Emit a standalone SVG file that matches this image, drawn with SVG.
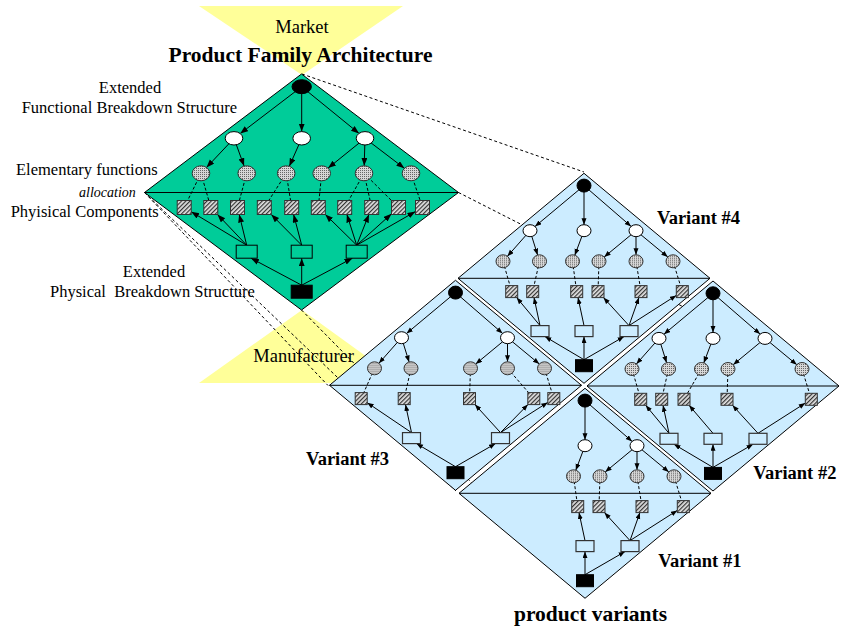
<svg xmlns="http://www.w3.org/2000/svg" width="844" height="632" viewBox="0 0 844 632">
<style>
  text { font-family: "Liberation Serif", "Times New Roman", serif; fill: #000; }
  .lbl { font-size: 16.5px; }
  .ttl { font-size: 21.5px; font-weight: bold; }
  .vname { font-size: 18.5px; font-weight: bold; }
  .pole { font-size: 18.5px; }
  .tri { fill: #FFFF99; stroke: none; }
  .proj { stroke: #000; stroke-width: 1; stroke-dasharray: 3 2.5; fill: none; }
  .pfa { fill: #00CC99; stroke: #000; stroke-width: 1; }
  .vd { fill: #CCECFF; stroke: #000; stroke-width: 1; }
  .split { stroke: #000; stroke-width: 1; }
  .arr { stroke: #000; stroke-width: 1; fill: none; marker-end: url(#ah); }
  .arrg { stroke: #000; stroke-width: 1; fill: none; marker-end: url(#ahg); }
  .dsh { stroke: #000; stroke-width: 1; stroke-dasharray: 3 2; fill: none; }
  .blk { fill: #000; stroke: #000; }
  .fn { fill: #fff; stroke: #000; stroke-width: 1; }
  .ef { fill: url(#dots); stroke: #333; stroke-width: 1; }
  .pc { fill: url(#hatch); stroke: #333; stroke-width: 1; }
  .ssg { fill: #00CC99; stroke: #000; stroke-width: 1; }
  .ssv { fill: #CCECFF; stroke: #333; stroke-width: 1.2; }
</style>
<defs>
  <pattern id="dots" width="2" height="2" patternUnits="userSpaceOnUse">
    <rect width="2" height="2" fill="#d6d6d6"/>
    <rect width="1" height="1" fill="#666"/>
  </pattern>
  <pattern id="hatch" width="3" height="3" patternUnits="userSpaceOnUse" patternTransform="rotate(45)">
    <rect width="3" height="3" fill="#e2e2e2"/>
    <line x1="0.6" y1="0" x2="0.6" y2="3" stroke="#333" stroke-width="1.2"/>
  </pattern>
  <marker id="ah" markerWidth="7" markerHeight="6" refX="6.5" refY="2.5" orient="auto" markerUnits="userSpaceOnUse">
    <path d="M0,0 L6.5,2.5 L0,5 z" fill="#000"/>
  </marker>
  <marker id="ahg" markerWidth="9" markerHeight="7" refX="8" refY="3" orient="auto" markerUnits="userSpaceOnUse">
    <path d="M0,0 L8,3 L0,6 z" fill="#000"/>
  </marker>
</defs>

<!-- market and manufacturer funnels -->
<g id="market">
  <polygon class="tri" points="199,6 403,6 302,75"/>
</g>
<g id="manufacturer">
  <polygon class="tri" points="199,383 403,383 302,310"/>
</g>

<!-- projection from the family architecture onto the variants -->
<g id="projection">
  <line class="proj" x1="302" y1="74" x2="584" y2="172"/>
  <line class="proj" x1="458.5" y1="192.5" x2="839" y2="386"/>
  <line class="proj" x1="144.5" y1="192.5" x2="328" y2="385.5"/>
  <line class="proj" x1="144.5" y1="192.5" x2="456" y2="491"/>
  <line class="proj" x1="301.5" y1="310" x2="585" y2="598"/>
</g>

<!-- product family architecture -->
<g id="family">
  <polygon class="pfa" points="301.5,74 458.5,192.5 301.5,310 144.5,192.5"/>
  <line class="split" x1="144.5" y1="192.5" x2="458.5" y2="192.5"/>
  <g id="family-links">
    <path class="arrg" d="M301.7,86.7 L240.2,133.6"/>
    <path class="arrg" d="M301.7,86.7 L301.7,131.6"/>
    <path class="arrg" d="M301.7,86.7 L359,133.4"/>
    <path class="arrg" d="M234,138.3 L206.5,167.5"/>
    <path class="arrg" d="M234,138.3 L244.1,166.1"/>
    <path class="arrg" d="M301.7,138.3 L289.3,166.3"/>
    <path class="arrg" d="M365,138.3 L328.1,168.1"/>
    <path class="arrg" d="M365,138.3 L364.2,165.8"/>
    <path class="arrg" d="M365,138.3 L404.4,168.3"/>
    <path class="dsh" d="M201,173.3 L184.2,207.5"/>
    <path class="dsh" d="M201,173.3 L210.8,207.5"/>
    <path class="dsh" d="M246.7,173.3 L237.5,207.5"/>
    <path class="dsh" d="M286.2,173.3 L264.3,207.5"/>
    <path class="dsh" d="M286.2,173.3 L291.7,207.5"/>
    <path class="dsh" d="M321.7,173.3 L318.3,207.5"/>
    <path class="dsh" d="M364,173.3 L344.7,207.5"/>
    <path class="dsh" d="M364,173.3 L371.7,207.5"/>
    <path class="dsh" d="M364,173.3 L398.5,207.5"/>
    <path class="dsh" d="M411,173.3 L422.5,207.5"/>
    <path class="arrg" d="M246.7,245.2 L191.2,211.7"/>
    <path class="arrg" d="M246.7,245.2 L217.5,214.5"/>
    <path class="arrg" d="M246.7,245.2 L239.2,214.5"/>
    <path class="arrg" d="M301.7,245.2 L271.3,214.5"/>
    <path class="arrg" d="M301.7,245.2 L293.6,214.5"/>
    <path class="arrg" d="M356.7,245.2 L325.3,214.4"/>
    <path class="arrg" d="M356.7,245.2 L346.9,214.5"/>
    <path class="arrg" d="M356.7,245.2 L368.9,214.5"/>
    <path class="arrg" d="M356.7,245.2 L391.5,213.8"/>
    <path class="arrg" d="M356.7,245.2 L415.5,211.5"/>
    <path class="arrg" d="M301.7,285.2 L251,258.2"/>
    <path class="arrg" d="M301.7,285.2 L301.7,258.2"/>
    <path class="arrg" d="M301.7,285.2 L352.4,258.2"/>
  </g>
  <g id="f-root"><ellipse class="blk" cx="301.7" cy="86.7" rx="9.7" ry="7"/></g>
  <g id="f-fn1"><ellipse class="fn" cx="234" cy="138.3" rx="8.8" ry="6.7"/></g>
  <g id="f-fn2"><ellipse class="fn" cx="301.7" cy="138.3" rx="8.8" ry="6.7"/></g>
  <g id="f-fn3"><ellipse class="fn" cx="365" cy="138.3" rx="8.8" ry="6.7"/></g>
  <g id="f-ef1"><ellipse class="ef" cx="201" cy="173.3" rx="8.8" ry="7.5"/></g>
  <g id="f-ef2"><ellipse class="ef" cx="246.7" cy="173.3" rx="8.8" ry="7.5"/></g>
  <g id="f-ef3"><ellipse class="ef" cx="286.2" cy="173.3" rx="8.8" ry="7.5"/></g>
  <g id="f-ef4"><ellipse class="ef" cx="321.7" cy="173.3" rx="8.8" ry="7.5"/></g>
  <g id="f-ef5"><ellipse class="ef" cx="364" cy="173.3" rx="8.8" ry="7.5"/></g>
  <g id="f-ef6"><ellipse class="ef" cx="411" cy="173.3" rx="8.8" ry="7.5"/></g>
  <g id="f-pc1"><rect class="pc" x="177.2" y="200.5" width="14" height="14"/></g>
  <g id="f-pc2"><rect class="pc" x="203.8" y="200.5" width="14" height="14"/></g>
  <g id="f-pc3"><rect class="pc" x="230.5" y="200.5" width="14" height="14"/></g>
  <g id="f-pc4"><rect class="pc" x="257.3" y="200.5" width="14" height="14"/></g>
  <g id="f-pc5"><rect class="pc" x="284.7" y="200.5" width="14" height="14"/></g>
  <g id="f-pc6"><rect class="pc" x="311.3" y="200.5" width="14" height="14"/></g>
  <g id="f-pc7"><rect class="pc" x="337.7" y="200.5" width="14" height="14"/></g>
  <g id="f-pc8"><rect class="pc" x="364.7" y="200.5" width="14" height="14"/></g>
  <g id="f-pc9"><rect class="pc" x="391.5" y="200.5" width="14" height="14"/></g>
  <g id="f-pc10"><rect class="pc" x="415.5" y="200.5" width="14" height="14"/></g>
  <g id="f-ss1"><rect class="ssg" x="236.2" y="245.2" width="21" height="13"/></g>
  <g id="f-ss2"><rect class="ssg" x="291.2" y="245.2" width="21" height="13"/></g>
  <g id="f-ss3"><rect class="ssg" x="346.2" y="245.2" width="21" height="13"/></g>
  <g id="f-prod"><rect class="blk" x="291.2" y="285.2" width="21" height="13"/></g>
</g>

<!-- variant #4 (top) -->
<g id="variant-4" transform="translate(584,278.3)">
  <polygon class="vd" points="0,-105 126,0 0,105 -126,0"/>
  <line class="split" x1="-126" y1="0" x2="126" y2="0"/>
  <g id="v4-links">
    <path class="arr" d="M0,-92.7 L-49,-51.8"/>
    <path class="arr" d="M0,-92.7 L0,-53.6"/>
    <path class="arr" d="M0,-92.7 L47.1,-51.9"/>
    <path class="arr" d="M-54,-47.6 L-76.6,-22"/>
    <path class="arr" d="M-54,-47.6 L-46.4,-23.3"/>
    <path class="arr" d="M0,-47.6 L-9.2,-23.1"/>
    <path class="arr" d="M52,-47.6 L20.2,-21.3"/>
    <path class="arr" d="M52,-47.6 L52,-23.5"/>
    <path class="arr" d="M52,-47.6 L83.8,-21.3"/>
    <path class="dsh" d="M-81,-17 L-72.3,13.3"/>
    <path class="dsh" d="M-44.5,-17 L-51.3,13.3"/>
    <path class="dsh" d="M-11.5,-17 L-7.3,13.3"/>
    <path class="dsh" d="M15,-17 L14,13.3"/>
    <path class="dsh" d="M52,-17 L57,13.3"/>
    <path class="dsh" d="M89,-17 L98.3,13.3"/>
    <path class="arr" d="M-44,47.3 L-67.3,19.3"/>
    <path class="arr" d="M-44,47.3 L-50,19.3"/>
    <path class="arr" d="M0,47.3 L-6,19.3"/>
    <path class="arr" d="M45,47.3 L19.5,19.3"/>
    <path class="arr" d="M45,47.3 L54.9,19.3"/>
    <path class="arr" d="M45,47.3 L92.3,17.1"/>
    <path class="arr" d="M0,81.4 L-39,58.3"/>
    <path class="arr" d="M0,81.4 L0,58.3"/>
    <path class="arr" d="M0,81.4 L40,58.3"/>
  </g>
  <g id="v4-root"><ellipse class="blk" cx="0" cy="-92.7" rx="7" ry="6.5"/></g>
  <g id="v4-fn1"><ellipse class="fn" cx="-54" cy="-47.6" rx="7" ry="6"/></g>
  <g id="v4-fn2"><ellipse class="fn" cx="0" cy="-47.6" rx="7" ry="6"/></g>
  <g id="v4-fn3"><ellipse class="fn" cx="52" cy="-47.6" rx="7" ry="6"/></g>
  <g id="v4-ef1"><ellipse class="ef" cx="-81" cy="-17" rx="7" ry="6.5"/></g>
  <g id="v4-ef2"><ellipse class="ef" cx="-44.5" cy="-17" rx="7" ry="6.5"/></g>
  <g id="v4-ef3"><ellipse class="ef" cx="-11.5" cy="-17" rx="7" ry="6.5"/></g>
  <g id="v4-ef4"><ellipse class="ef" cx="15" cy="-17" rx="7" ry="6.5"/></g>
  <g id="v4-ef5"><ellipse class="ef" cx="52" cy="-17" rx="7" ry="6.5"/></g>
  <g id="v4-ef6"><ellipse class="ef" cx="89" cy="-17" rx="7" ry="6.5"/></g>
  <g id="v4-pc1"><rect class="pc" x="-78.3" y="7.3" width="12" height="12"/></g>
  <g id="v4-pc2"><rect class="pc" x="-57.3" y="7.3" width="12" height="12"/></g>
  <g id="v4-pc3"><rect class="pc" x="-13.3" y="7.3" width="12" height="12"/></g>
  <g id="v4-pc4"><rect class="pc" x="8" y="7.3" width="12" height="12"/></g>
  <g id="v4-pc5"><rect class="pc" x="51" y="7.3" width="12" height="12"/></g>
  <g id="v4-pc6"><rect class="pc" x="92.3" y="7.3" width="12" height="12"/></g>
  <g id="v4-ss1"><rect class="ssv" x="-53" y="47.3" width="18" height="11"/></g>
  <g id="v4-ss2"><rect class="ssv" x="-9" y="47.3" width="18" height="11"/></g>
  <g id="v4-ss3"><rect class="ssv" x="36" y="47.3" width="18" height="11"/></g>
  <g id="v4-prod"><rect class="blk" x="-8.5" y="81.4" width="17" height="12"/></g>
</g>

<!-- variant #3 (left) -->
<g id="variant-3" transform="translate(455.5,385.3)">
  <polygon class="vd" points="0,-105 126,0 0,105 -126,0"/>
  <line class="split" x1="-126" y1="0" x2="126" y2="0"/>
  <g id="v3-links">
    <path class="arr" d="M0,-92.7 L-49,-51.8"/>
    <path class="arr" d="M0,-92.7 L47.1,-51.9"/>
    <path class="arr" d="M-54,-47.6 L-76.6,-22"/>
    <path class="arr" d="M-54,-47.6 L-46.4,-23.3"/>
    <path class="arr" d="M52,-47.6 L20.2,-21.3"/>
    <path class="arr" d="M52,-47.6 L52,-23.5"/>
    <path class="arr" d="M52,-47.6 L83.8,-21.3"/>
    <path class="dsh" d="M-81,-17 L-94.3,13.3"/>
    <path class="dsh" d="M-44.5,-17 L-51.3,13.3"/>
    <path class="dsh" d="M15,-17 L14,13.3"/>
    <path class="dsh" d="M52,-17 L78.3,13.3"/>
    <path class="dsh" d="M89,-17 L98.3,13.3"/>
    <path class="arr" d="M-44,47.3 L-88.3,17.4"/>
    <path class="arr" d="M-44,47.3 L-50,19.3"/>
    <path class="arr" d="M45,47.3 L19.5,19.3"/>
    <path class="arr" d="M45,47.3 L72.4,19.3"/>
    <path class="arr" d="M45,47.3 L92.3,17.1"/>
    <path class="arr" d="M0,81.4 L-39,58.3"/>
    <path class="arr" d="M0,81.4 L40,58.3"/>
  </g>
  <g id="v3-root"><ellipse class="blk" cx="0" cy="-92.7" rx="7" ry="6.5"/></g>
  <g id="v3-fn1"><ellipse class="fn" cx="-54" cy="-47.6" rx="7" ry="6"/></g>
  <g id="v3-fn2"><ellipse class="fn" cx="52" cy="-47.6" rx="7" ry="6"/></g>
  <g id="v3-ef1"><ellipse class="ef" cx="-81" cy="-17" rx="7" ry="6.5"/></g>
  <g id="v3-ef2"><ellipse class="ef" cx="-44.5" cy="-17" rx="7" ry="6.5"/></g>
  <g id="v3-ef3"><ellipse class="ef" cx="15" cy="-17" rx="7" ry="6.5"/></g>
  <g id="v3-ef4"><ellipse class="ef" cx="52" cy="-17" rx="7" ry="6.5"/></g>
  <g id="v3-ef5"><ellipse class="ef" cx="89" cy="-17" rx="7" ry="6.5"/></g>
  <g id="v3-pc1"><rect class="pc" x="-100.3" y="7.3" width="12" height="12"/></g>
  <g id="v3-pc2"><rect class="pc" x="-57.3" y="7.3" width="12" height="12"/></g>
  <g id="v3-pc3"><rect class="pc" x="8" y="7.3" width="12" height="12"/></g>
  <g id="v3-pc4"><rect class="pc" x="72.3" y="7.3" width="12" height="12"/></g>
  <g id="v3-pc5"><rect class="pc" x="92.3" y="7.3" width="12" height="12"/></g>
  <g id="v3-ss1"><rect class="ssv" x="-53" y="47.3" width="18" height="11"/></g>
  <g id="v3-ss2"><rect class="ssv" x="36" y="47.3" width="18" height="11"/></g>
  <g id="v3-prod"><rect class="blk" x="-8.5" y="81.4" width="17" height="12"/></g>
</g>

<!-- variant #2 (right) -->
<g id="variant-2" transform="translate(713,386)">
  <polygon class="vd" points="0,-105 126,0 0,105 -126,0"/>
  <line class="split" x1="-126" y1="0" x2="126" y2="0"/>
  <g id="v2-links">
    <path class="arr" d="M0,-92.7 L-49,-51.8"/>
    <path class="arr" d="M0,-92.7 L0,-53.6"/>
    <path class="arr" d="M0,-92.7 L47.1,-51.9"/>
    <path class="arr" d="M-54,-47.6 L-76.6,-22"/>
    <path class="arr" d="M-54,-47.6 L-46.4,-23.3"/>
    <path class="arr" d="M0,-47.6 L-9.2,-23.1"/>
    <path class="arr" d="M52,-47.6 L20.2,-21.3"/>
    <path class="arr" d="M52,-47.6 L83.8,-21.3"/>
    <path class="dsh" d="M-81,-17 L-72.3,13.3"/>
    <path class="dsh" d="M-44.5,-17 L-51.3,13.3"/>
    <path class="dsh" d="M-11.5,-17 L-29,13.3"/>
    <path class="dsh" d="M15,-17 L14,13.3"/>
    <path class="dsh" d="M89,-17 L98.3,13.3"/>
    <path class="arr" d="M-44,47.3 L-67.3,19.3"/>
    <path class="arr" d="M-44,47.3 L-50,19.3"/>
    <path class="arr" d="M0,47.3 L-23.9,19.3"/>
    <path class="arr" d="M45,47.3 L19.5,19.3"/>
    <path class="arr" d="M45,47.3 L92.3,17.1"/>
    <path class="arr" d="M0,81.4 L-39,58.3"/>
    <path class="arr" d="M0,81.4 L0,58.3"/>
    <path class="arr" d="M0,81.4 L40,58.3"/>
  </g>
  <g id="v2-root"><ellipse class="blk" cx="0" cy="-92.7" rx="7" ry="6.5"/></g>
  <g id="v2-fn1"><ellipse class="fn" cx="-54" cy="-47.6" rx="7" ry="6"/></g>
  <g id="v2-fn2"><ellipse class="fn" cx="0" cy="-47.6" rx="7" ry="6"/></g>
  <g id="v2-fn3"><ellipse class="fn" cx="52" cy="-47.6" rx="7" ry="6"/></g>
  <g id="v2-ef1"><ellipse class="ef" cx="-81" cy="-17" rx="7" ry="6.5"/></g>
  <g id="v2-ef2"><ellipse class="ef" cx="-44.5" cy="-17" rx="7" ry="6.5"/></g>
  <g id="v2-ef3"><ellipse class="ef" cx="-11.5" cy="-17" rx="7" ry="6.5"/></g>
  <g id="v2-ef4"><ellipse class="ef" cx="15" cy="-17" rx="7" ry="6.5"/></g>
  <g id="v2-ef5"><ellipse class="ef" cx="89" cy="-17" rx="7" ry="6.5"/></g>
  <g id="v2-pc1"><rect class="pc" x="-78.3" y="7.3" width="12" height="12"/></g>
  <g id="v2-pc2"><rect class="pc" x="-57.3" y="7.3" width="12" height="12"/></g>
  <g id="v2-pc3"><rect class="pc" x="-35" y="7.3" width="12" height="12"/></g>
  <g id="v2-pc4"><rect class="pc" x="8" y="7.3" width="12" height="12"/></g>
  <g id="v2-pc5"><rect class="pc" x="92.3" y="7.3" width="12" height="12"/></g>
  <g id="v2-ss1"><rect class="ssv" x="-53" y="47.3" width="18" height="11"/></g>
  <g id="v2-ss2"><rect class="ssv" x="-9" y="47.3" width="18" height="11"/></g>
  <g id="v2-ss3"><rect class="ssv" x="36" y="47.3" width="18" height="11"/></g>
  <g id="v2-prod"><rect class="blk" x="-8.5" y="81.4" width="17" height="12"/></g>
</g>

<!-- variant #1 (bottom) -->
<g id="variant-1" transform="translate(585,493.3)">
  <polygon class="vd" points="0,-105 126,0 0,105 -126,0"/>
  <line class="split" x1="-126" y1="0" x2="126" y2="0"/>
  <g id="v1-links">
    <path class="arr" d="M0,-92.7 L0,-53.6"/>
    <path class="arr" d="M0,-92.7 L47.1,-51.9"/>
    <path class="arr" d="M0,-47.6 L-9.2,-23.1"/>
    <path class="arr" d="M52,-47.6 L20.2,-21.3"/>
    <path class="arr" d="M52,-47.6 L52,-23.5"/>
    <path class="arr" d="M52,-47.6 L83.8,-21.3"/>
    <path class="dsh" d="M-11.5,-17 L-7.3,13.3"/>
    <path class="dsh" d="M15,-17 L14,13.3"/>
    <path class="dsh" d="M52,-17 L57,13.3"/>
    <path class="dsh" d="M89,-17 L98.3,13.3"/>
    <path class="arr" d="M0,47.3 L-6,19.3"/>
    <path class="arr" d="M45,47.3 L19.5,19.3"/>
    <path class="arr" d="M45,47.3 L54.9,19.3"/>
    <path class="arr" d="M45,47.3 L92.3,17.1"/>
    <path class="arr" d="M0,81.4 L0,58.3"/>
    <path class="arr" d="M0,81.4 L40,58.3"/>
  </g>
  <g id="v1-root"><ellipse class="blk" cx="0" cy="-92.7" rx="7" ry="6.5"/></g>
  <g id="v1-fn1"><ellipse class="fn" cx="0" cy="-47.6" rx="7" ry="6"/></g>
  <g id="v1-fn2"><ellipse class="fn" cx="52" cy="-47.6" rx="7" ry="6"/></g>
  <g id="v1-ef1"><ellipse class="ef" cx="-11.5" cy="-17" rx="7" ry="6.5"/></g>
  <g id="v1-ef2"><ellipse class="ef" cx="15" cy="-17" rx="7" ry="6.5"/></g>
  <g id="v1-ef3"><ellipse class="ef" cx="52" cy="-17" rx="7" ry="6.5"/></g>
  <g id="v1-ef4"><ellipse class="ef" cx="89" cy="-17" rx="7" ry="6.5"/></g>
  <g id="v1-pc1"><rect class="pc" x="-13.3" y="7.3" width="12" height="12"/></g>
  <g id="v1-pc2"><rect class="pc" x="8" y="7.3" width="12" height="12"/></g>
  <g id="v1-pc3"><rect class="pc" x="51" y="7.3" width="12" height="12"/></g>
  <g id="v1-pc4"><rect class="pc" x="92.3" y="7.3" width="12" height="12"/></g>
  <g id="v1-ss1"><rect class="ssv" x="-9" y="47.3" width="18" height="11"/></g>
  <g id="v1-ss2"><rect class="ssv" x="36" y="47.3" width="18" height="11"/></g>
  <g id="v1-prod"><rect class="blk" x="-8.5" y="81.4" width="17" height="12"/></g>
</g>

<!-- captions -->
<g id="labels">
  <text class="pole" x="302" y="32.5" text-anchor="middle">Market</text>
  <text class="ttl" x="300.5" y="61.5" text-anchor="middle">Product Family Architecture</text>
  <text class="lbl" x="130" y="92.5" text-anchor="middle">Extended</text>
  <text class="lbl" x="21.7" y="112.5">Functional Breakdown Structure</text>
  <text class="lbl" x="16" y="175">Elementary functions</text>
  <text x="79" y="196.5" font-size="14" font-style="italic">allocation</text>
  <text class="lbl" x="10.7" y="216.5">Phyisical Components</text>
  <text class="lbl" x="154" y="276.5" text-anchor="middle">Extended</text>
  <text class="lbl" x="50" y="296.5" style="white-space:pre">Physical  Breakdown Structure</text>
  <text class="pole" x="253.3" y="361.5">Manufacturer</text>
  <text class="vname" x="657" y="224">Variant #4</text>
  <text class="vname" x="306" y="465">Variant #3</text>
  <text class="vname" x="753.3" y="479.3">Variant #2</text>
  <text class="vname" x="658.3" y="566.7">Variant #1</text>
  <text class="ttl" x="514" y="621">product variants</text>
</g>
</svg>
